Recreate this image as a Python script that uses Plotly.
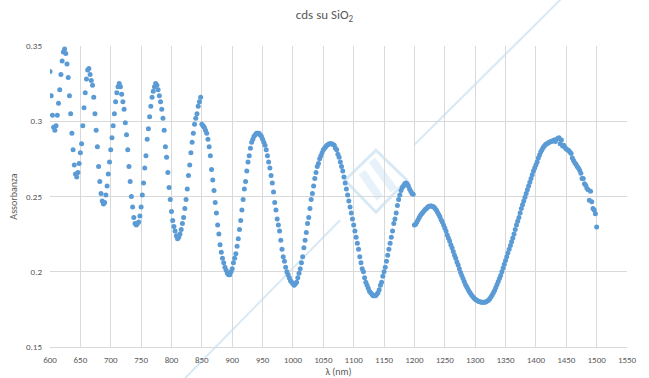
import plotly.graph_objects as go

# Absorbance of CdS on SiO2, sampled every 2 nm over three detector ranges
step_nm = 2

abs_600_848 = [
    0.333, 0.317, 0.304, 0.296, 0.294, 0.297, 0.304, 0.312, 0.321, 0.331,
    0.340, 0.346, 0.348, 0.345, 0.338, 0.329, 0.317, 0.305, 0.292, 0.281,
    0.271, 0.265, 0.263, 0.266, 0.272, 0.279, 0.285, 0.297, 0.309, 0.319,
    0.328, 0.334, 0.335, 0.331, 0.327, 0.324, 0.316, 0.305, 0.294, 0.283,
    0.270, 0.260, 0.252, 0.247, 0.245, 0.246, 0.251, 0.257, 0.265, 0.273,
    0.281, 0.289, 0.297, 0.305, 0.313, 0.319, 0.323, 0.325, 0.323, 0.318,
    0.313, 0.308, 0.299, 0.291, 0.281, 0.270, 0.260, 0.250, 0.243, 0.236,
    0.232, 0.231, 0.232, 0.233, 0.237, 0.243, 0.251, 0.259, 0.269, 0.277,
    0.288, 0.295, 0.303, 0.310, 0.316, 0.320, 0.323, 0.325, 0.324, 0.321,
    0.317, 0.313, 0.308, 0.302, 0.294, 0.283, 0.276, 0.266, 0.256, 0.248,
    0.240, 0.234, 0.230, 0.227, 0.224, 0.222, 0.223, 0.225, 0.228, 0.232,
    0.236, 0.242, 0.248, 0.255, 0.264, 0.271, 0.279, 0.286, 0.292, 0.298,
    0.302, 0.305, 0.310, 0.313, 0.316,
]

abs_850_1198 = [
    0.298, 0.297, 0.296, 0.294, 0.292, 0.288, 0.283, 0.277, 0.268, 0.261,
    0.254, 0.246, 0.239, 0.231, 0.225, 0.218, 0.213, 0.209, 0.206, 0.203,
    0.201, 0.199, 0.198, 0.198, 0.200, 0.202, 0.206, 0.209, 0.212, 0.217,
    0.222, 0.228, 0.234, 0.241, 0.248, 0.255, 0.260, 0.267, 0.273, 0.277,
    0.282, 0.286, 0.288, 0.290, 0.291, 0.292, 0.292, 0.292, 0.291, 0.290,
    0.288, 0.286, 0.284, 0.281, 0.277, 0.273, 0.269, 0.264, 0.259, 0.253,
    0.246, 0.241, 0.235, 0.231, 0.227, 0.221, 0.215, 0.210, 0.207, 0.203,
    0.200, 0.198, 0.196, 0.194, 0.193, 0.192, 0.191, 0.192, 0.193, 0.196,
    0.199, 0.202, 0.206, 0.210, 0.216, 0.221, 0.226, 0.232, 0.236, 0.242,
    0.248, 0.252, 0.257, 0.262, 0.266, 0.270, 0.272, 0.275, 0.277, 0.279,
    0.281, 0.282, 0.283, 0.284, 0.2845, 0.285, 0.285, 0.285, 0.2845, 0.284,
    0.282, 0.281, 0.278, 0.276, 0.273, 0.270, 0.267, 0.263, 0.259, 0.255,
    0.251, 0.247, 0.243, 0.239, 0.235, 0.231, 0.227, 0.223, 0.219, 0.215,
    0.210, 0.206, 0.202, 0.200, 0.196, 0.193, 0.191, 0.189, 0.187, 0.186,
    0.185, 0.184, 0.184, 0.184, 0.185, 0.186, 0.188, 0.191, 0.193, 0.197,
    0.200, 0.203, 0.207, 0.211, 0.215, 0.219, 0.223, 0.227, 0.232, 0.235,
    0.239, 0.244, 0.248, 0.251, 0.254, 0.256, 0.257, 0.2585, 0.259, 0.2585,
    0.257, 0.255, 0.2535, 0.252, 0.2515,
]

abs_1200_1500 = [
    0.231, 0.2315, 0.233, 0.2345, 0.236, 0.2375, 0.2385, 0.2395, 0.2405, 0.2415,
    0.242, 0.243, 0.2435, 0.2437, 0.2437, 0.2433, 0.243, 0.242, 0.241, 0.2395,
    0.238, 0.2365, 0.2345, 0.233, 0.231, 0.229, 0.227, 0.2245, 0.2225, 0.2205,
    0.218, 0.216, 0.2135, 0.211, 0.209, 0.2065, 0.2045, 0.202, 0.1995, 0.1975,
    0.1955, 0.1935, 0.1915, 0.190, 0.1885, 0.187, 0.1857, 0.1845, 0.1835, 0.1825,
    0.1818, 0.1812, 0.1807, 0.1803, 0.180, 0.1798, 0.1797, 0.1797, 0.1798, 0.180,
    0.1805, 0.181, 0.182, 0.1832, 0.1845, 0.186, 0.1875, 0.1895, 0.1915, 0.1935,
    0.1955, 0.1975, 0.200, 0.2025, 0.205, 0.2075, 0.210, 0.2125, 0.215, 0.2175,
    0.220, 0.2225, 0.225, 0.228, 0.231, 0.2335, 0.236, 0.239, 0.242, 0.2445,
    0.247, 0.2495, 0.252, 0.2545, 0.257, 0.2595, 0.262, 0.2645, 0.267, 0.269,
    0.271, 0.273, 0.2755, 0.2775, 0.2795, 0.281, 0.2825, 0.2835, 0.2845, 0.285,
    0.2855, 0.286, 0.2863, 0.2867, 0.287, 0.2875, 0.2865, 0.288, 0.2885, 0.289,
    0.285, 0.2875, 0.2835, 0.284, 0.2825, 0.2815, 0.281, 0.2805, 0.2795, 0.2785,
    0.2755, 0.274, 0.2725, 0.2715, 0.270, 0.269, 0.2675, 0.2655, 0.262, 0.262,
    0.2585, 0.2575, 0.2555, 0.2545, 0.2475, 0.2535, 0.2465, 0.242, 0.241, 0.2385,
    0.2298,
]

segments = [(600, abs_600_848), (850, abs_850_1198), (1200, abs_1200_1500)]

wavelength = []
absorbance = []
for start, values in segments:
    wavelength.extend(start + step_nm * i for i in range(len(values)))
    absorbance.extend(values)

x_ticks = list(range(600, 1551, 50))
y_ticks = [0.15, 0.2, 0.25, 0.3, 0.35]

font_family = "Carlito, Calibri, Lato, sans-serif"
text_grey = "#595959"
grid_grey = "#d9d9d9"
point_blue = "#5b9bd5"

fig = go.Figure()
fig.add_trace(go.Scatter(
    x=wavelength,
    y=absorbance,
    mode="markers",
    marker=dict(size=5, color=point_blue, line=dict(width=0)),
    hoverinfo="x+y",
))

# faint diagonal strokes and emblem in the background
wm = "rgba(200,224,242,0.7)"
wm_fill = "rgba(205,227,243,0.5)"


def px_to_paper(px, py):
    return (px - 49.7) / 577.6, (346.9 - py) / 301.2


shapes = []
for (ax, ay), (bx, by) in [((183, 380), (340, 220)), ((415, 144), (562, -2))]:
    x0, y0 = px_to_paper(ax, ay)
    x1, y1 = px_to_paper(bx, by)
    shapes.append(dict(type="line", xref="paper", yref="paper", x0=x0, y0=y0,
                       x1=x1, y1=y1, line=dict(color=wm, width=2), layer="below"))

diamond = [(376, 150), (407, 180), (376, 212), (345, 180)]
pts = [px_to_paper(*p) for p in diamond]
path = "M " + " L ".join(f"{x},{y}" for x, y in pts) + " Z"
shapes.append(dict(type="path", xref="paper", yref="paper", path=path,
                   line=dict(color=wm, width=3), layer="below"))
for (ax, ay), (bx, by) in [((362, 172), (380, 198)), ((372, 160), (394, 190))]:
    x0, y0 = px_to_paper(ax, ay)
    x1, y1 = px_to_paper(bx, by)
    shapes.append(dict(type="line", xref="paper", yref="paper", x0=x0, y0=y0,
                       x1=x1, y1=y1, line=dict(color=wm_fill, width=8), layer="below"))

fig.update_layout(
    width=649,
    height=378,
    margin=dict(l=50, r=22, t=46, b=31),
    paper_bgcolor="white",
    plot_bgcolor="white",
    showlegend=False,
    font=dict(family=font_family, color=text_grey, size=9),
    title=dict(
        text="cds su SiO<sub>2</sub>",
        x=0.5, xref="container", xanchor="center",
        y=0.962, yref="container", yanchor="middle",
        font=dict(family=font_family, size=13, color=text_grey),
    ),
    shapes=shapes,
)

fig.update_xaxes(
    range=[600, 1550],
    tickvals=x_ticks,
    showgrid=True, gridcolor=grid_grey, gridwidth=1,
    zeroline=False,
    showline=True, linecolor=grid_grey, linewidth=1,
    ticks="", ticklabelstandoff=4,
    tickfont=dict(size=9, color=text_grey),
    title=dict(text="λ (nm)", font=dict(size=10, color=text_grey), standoff=5),
    automargin=False,
)
fig.update_yaxes(
    range=[0.15, 0.35],
    tickvals=y_ticks,
    ticktext=[f"{v:g}" for v in y_ticks],
    showgrid=True, gridcolor=grid_grey, gridwidth=1,
    zeroline=False, showline=False,
    ticks="", ticklabelstandoff=7,
    tickfont=dict(size=9, color=text_grey),
    title=dict(text="Assorbanza", font=dict(size=10, color=text_grey), standoff=6),
    automargin=False,
)

fig.write_html("out.html")
